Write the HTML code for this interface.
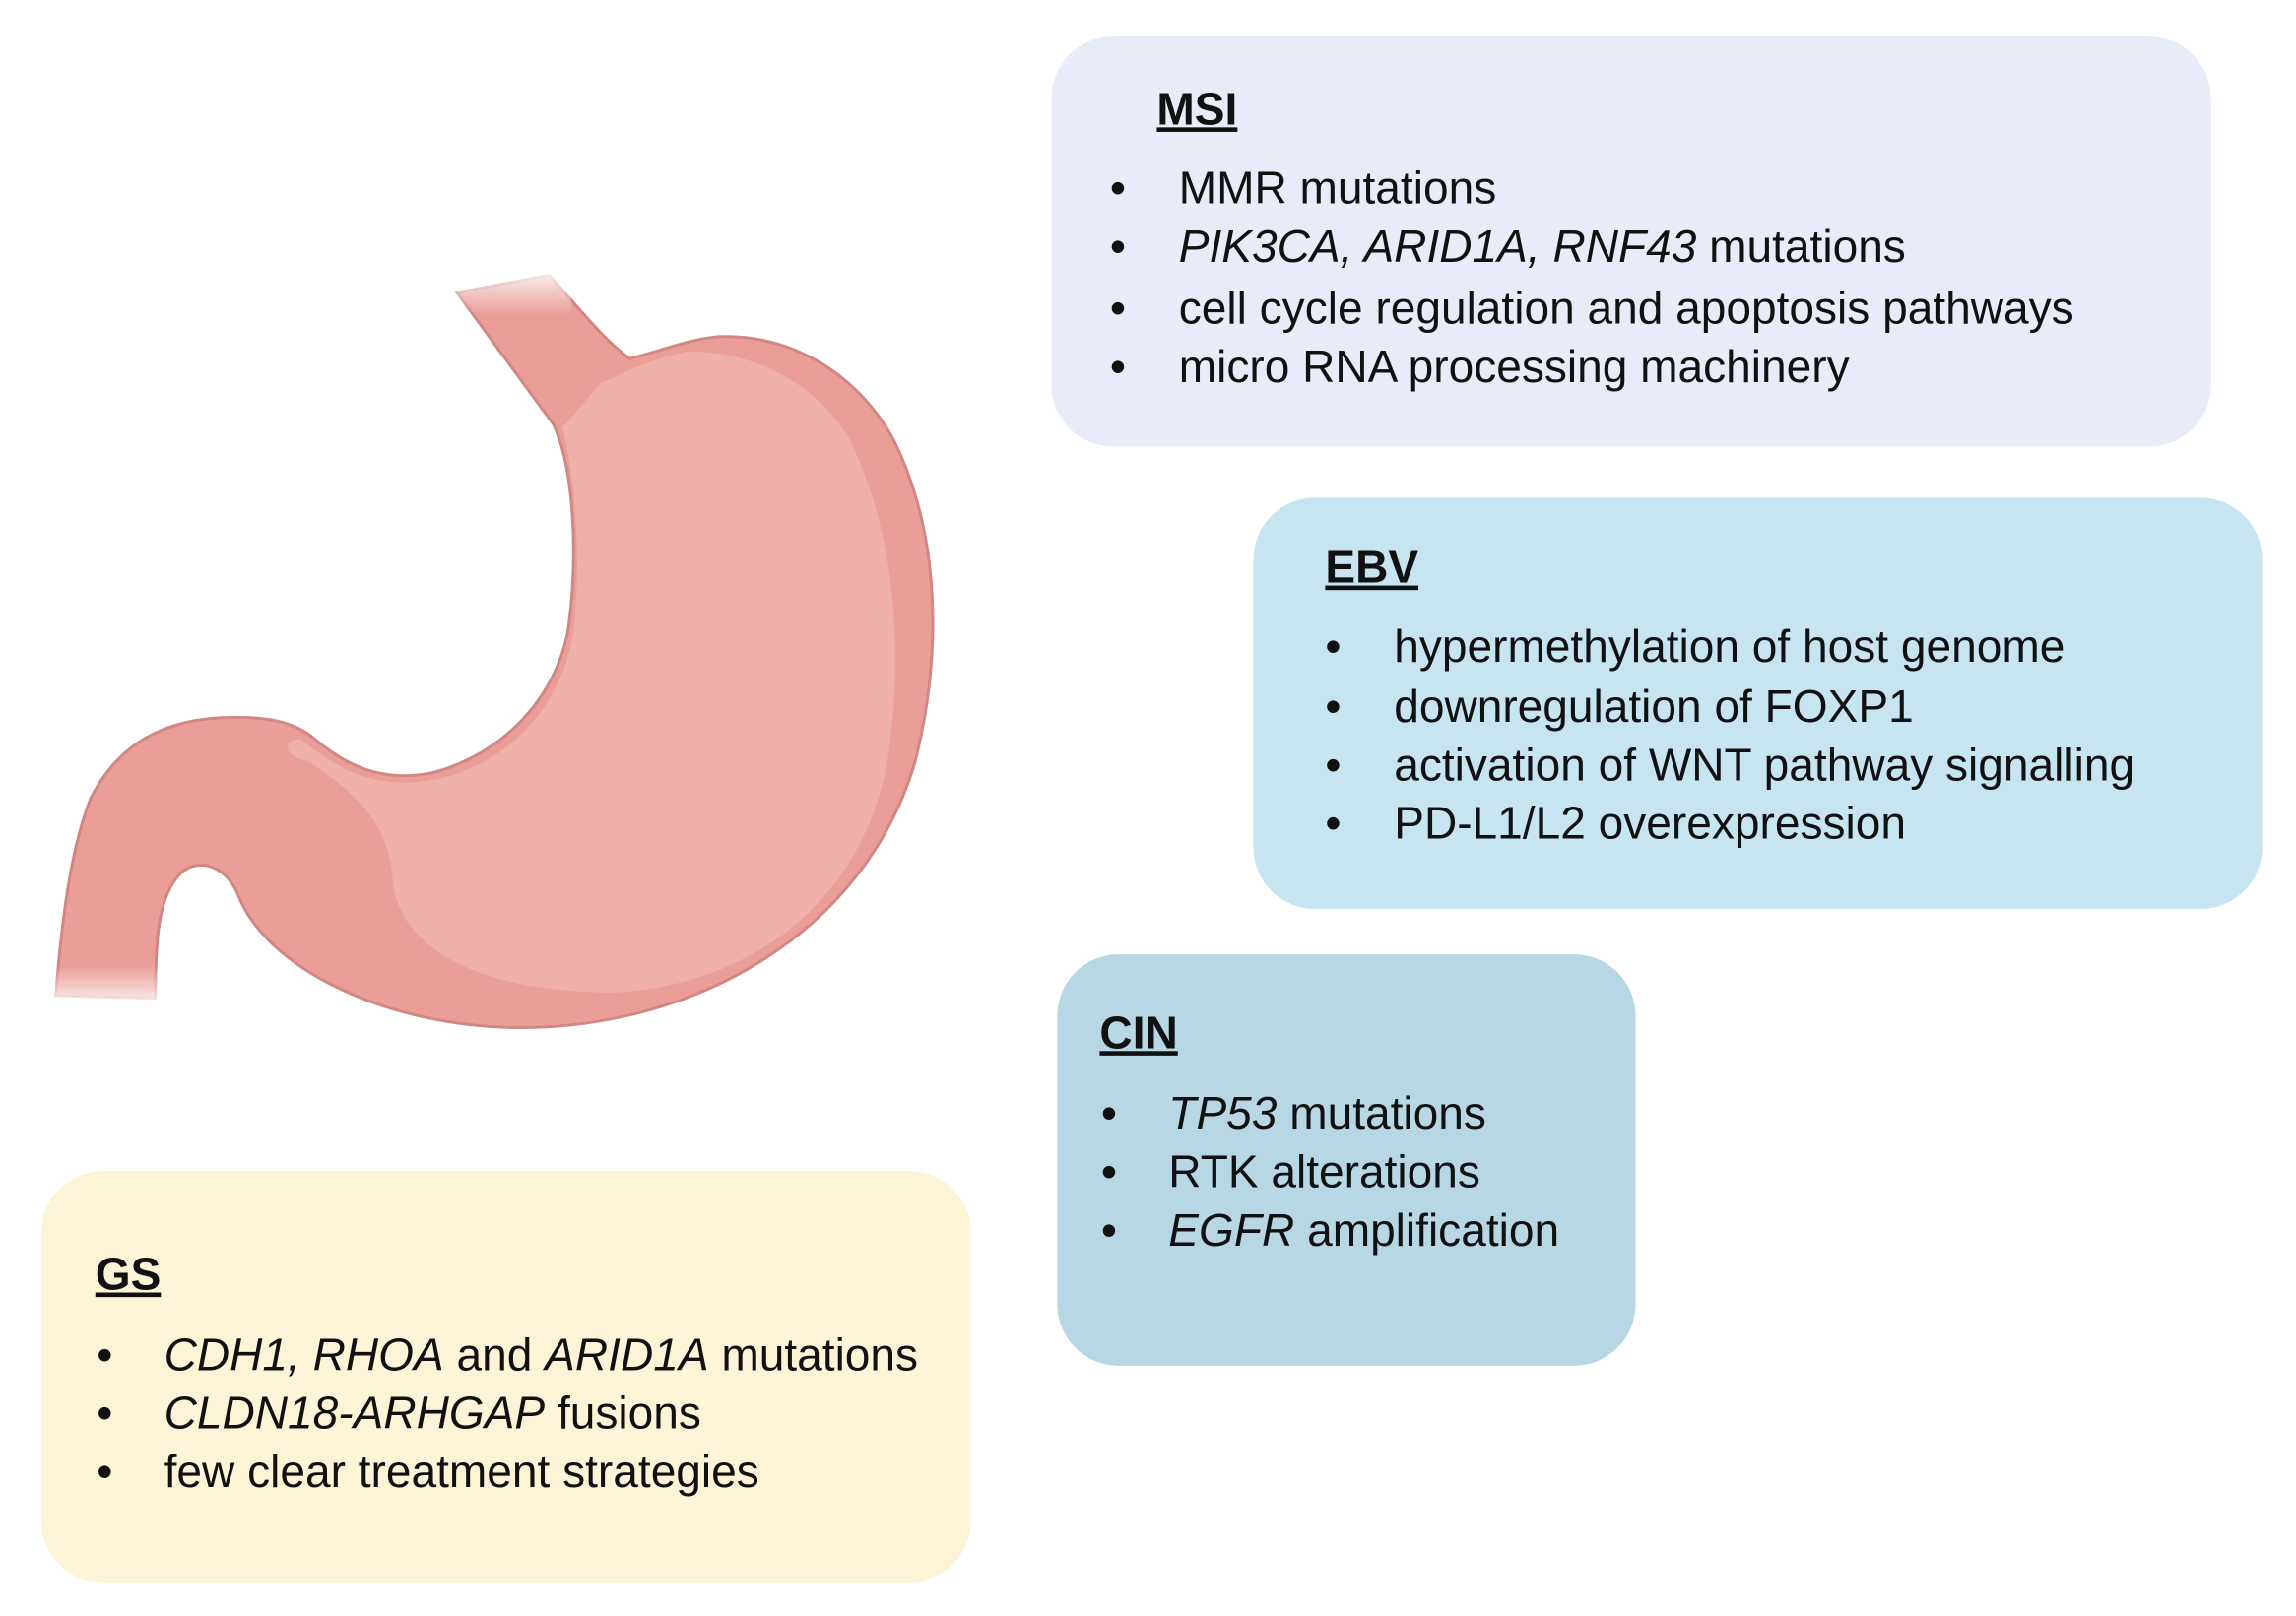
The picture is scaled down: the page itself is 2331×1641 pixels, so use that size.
<!DOCTYPE html>
<html><head><meta charset="utf-8"><style>
html,body{margin:0;padding:0;background:#fff;}
svg{display:block;}
text{font-family:"Liberation Sans",Arial,sans-serif;font-size:31px;fill:#111;}
.t{font-weight:bold;text-decoration:underline;}
.i{font-style:italic;}
</style></head><body>
<svg width="2331" height="1641" viewBox="0 0 1568 1104" xmlns="http://www.w3.org/2000/svg">
<defs>
<linearGradient id="fadeE" x1="0" y1="0" x2="0" y2="1"><stop offset="0" stop-color="#fff" stop-opacity="1"/><stop offset="1" stop-color="#fff" stop-opacity="0"/></linearGradient>
<linearGradient id="fadeD" x1="0" y1="1" x2="0" y2="0"><stop offset="0" stop-color="#fff" stop-opacity="1"/><stop offset="1" stop-color="#fff" stop-opacity="0"/></linearGradient>
</defs>
<rect width="1568" height="1104" fill="#fff"/>
<rect x="718" y="25" width="792" height="280" rx="42" fill="#e7ecf8"/>
<rect x="856" y="340" width="689" height="281" rx="42" fill="#c7e5f1"/>
<rect x="722" y="652" width="395" height="281" rx="42" fill="#b6d7e3"/>
<rect x="28" y="800" width="635" height="281" rx="42" fill="#fdf4d8"/>
<path d="M312,200 C330,225 360,265 378,290 C392,320 395,380 388,430 C380,475 345,515 295,528 C260,535 235,522 215,505 C200,492 180,490 160,490 C110,490 80,510 62,545 C48,580 42,630 38,680 L106,682 C106,640 108,610 125,595 C140,585 155,595 162,610 C180,660 260,700 350,702 C470,704 590,640 625,520 C645,440 640,360 610,300 C585,255 540,228 490,230 C470,232 450,240 430,245 C412,232 395,210 375,188 Z" fill="#eb9e98" stroke="#d08884" stroke-width="2"/>
<path d="M384,292 C394,330 397,390 391,435 C382,485 345,522 300,532 C250,542 225,520 205,505 C195,505 190,515 210,520 C240,540 265,560 268,600 C272,650 330,678 420,678 C520,672 590,610 606,520 C618,440 610,360 580,300 C555,258 510,240 470,240 C440,246 420,258 410,262 Z" fill="#efb0aa"/>
<rect x="300" y="180" width="90" height="35" fill="url(#fadeE)"/>
<rect x="30" y="660" width="90" height="30" fill="url(#fadeD)"/>
<text x="790" y="85" class="t">MSI</text>
<text x="758" y="139">•</text><text x="805" y="139">MMR mutations</text>
<text x="758" y="179">•</text><text x="805" y="179"><tspan class="i">PIK3CA, ARID1A, RNF43</tspan> mutations</text>
<text x="758" y="221">•</text><text x="805" y="221">cell cycle regulation and apoptosis pathways</text>
<text x="758" y="261">•</text><text x="805" y="261">micro RNA processing machinery</text>
<text x="905" y="398" class="t">EBV</text>
<text x="905" y="452">•</text><text x="952" y="452">hypermethylation of host genome</text>
<text x="905" y="493">•</text><text x="952" y="493">downregulation of FOXP1</text>
<text x="905" y="533">•</text><text x="952" y="533">activation of WNT pathway signalling</text>
<text x="905" y="573">•</text><text x="952" y="573">PD-L1/L2 overexpression</text>
<text x="751" y="716" class="t">CIN</text>
<text x="752" y="771">•</text><text x="798" y="771"><tspan class="i">TP53</tspan> mutations</text>
<text x="752" y="811">•</text><text x="798" y="811">RTK alterations</text>
<text x="752" y="851">•</text><text x="798" y="851"><tspan class="i">EGFR</tspan> amplification</text>
<text x="65" y="881" class="t">GS</text>
<text x="66" y="936">•</text><text x="112" y="936"><tspan class="i">CDH1, RHOA</tspan> and <tspan class="i">ARID1A</tspan> mutations</text>
<text x="66" y="976">•</text><text x="112" y="976"><tspan class="i">CLDN18-ARHGAP</tspan> fusions</text>
<text x="66" y="1016">•</text><text x="112" y="1016">few clear treatment strategies</text>
</svg>
</body></html>
